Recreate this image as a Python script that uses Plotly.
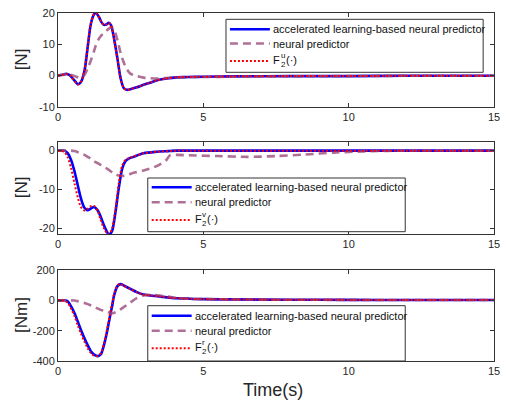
import plotly.graph_objects as go

# ---------------- data ----------------
t_top = [0, 0.15, 0.28, 0.4, 0.51, 0.6, 0.68, 0.79, 0.91, 1.02, 1.13, 1.24, 1.30, 1.41, 1.50,
         1.58, 1.66, 1.75, 1.83, 1.92, 2.04, 2.15, 2.26, 2.37, 2.49, 2.71, 2.94, 3.17, 3.39,
         3.73, 4.07, 4.5, 5, 6, 8, 10, 12, 15]
acc_top = [0, 0.2, 0.5, 0.1, -1.0, -2.0, -2.8, -2.1, 1.4, 9.0, 16.5, 19.6, 20.0, 18.7, 17.0,
           16.2, 16.3, 16.9, 16.0, 12.2, 5.7, -0.7, -4.0, -4.6, -4.4, -3.8, -3.0, -2.3, -1.6,
           -1.0, -0.6, -0.5, -0.4, -0.3, -0.2, -0.2, -0.1, -0.1]
neu_top = [0, 0.2, 0.4, 0.3, 0.0, -0.3, -0.6, -0.7, 0.2, 2.2, 4.8, 7.8, 9.6, 11.8, 12.9,
           13.6, 14.3, 15.0, 15.4, 14.8, 11.5, 7.3, 4.2, 2.0, 0.6, -0.2, -0.7, -0.9, -1.0,
           -0.8, -0.6, -0.5, -0.5, -0.4, -0.3, -0.2, -0.1, -0.1]
ref_top = [0, 0.2, 0.5, 0.1, -1.1, -2.1, -2.9, -2.0, 1.6, 9.3, 16.7, 19.7, 20.0, 18.6, 16.9,
           16.2, 16.3, 16.8, 15.9, 12.0, 5.5, -0.8, -4.0, -4.6, -4.4, -3.8, -3.0, -2.3, -1.6,
           -1.0, -0.6, -0.5, -0.4, -0.3, -0.2, -0.2, -0.1, -0.1]

t_mid = [0, 0.12, 0.23, 0.34, 0.45, 0.57, 0.68, 0.79, 0.91, 1.02, 1.13, 1.24, 1.36, 1.47, 1.58,
         1.70, 1.75, 1.81, 1.87, 1.98, 2.09, 2.21, 2.32, 2.45, 2.60, 2.94, 3.39, 3.73, 3.85,
         4.07, 4.5, 5.5, 6.5, 7.5, 8.5, 9.5, 10.5, 12, 15]
acc_mid = [0, 0, 0, -0.7, -2.4, -5.4, -8.9, -12.3, -14.7, -15.3, -14.9, -14.5, -15.3, -17.0, -19.2,
           -21.1, -21.6, -21.3, -20.5, -15.7, -9.7, -4.6, -2.7, -2.0, -1.6, -0.7, -0.3, -0.15, -0.1,
           0, 0, 0, 0, 0, 0, 0, 0, 0, 0]
neu_mid = [0, 0, 0, 0, 0, -0.1, -0.4, -0.7, -1.1, -1.6, -2.1, -2.7, -3.2, -3.7, -4.2,
           -4.7, -5.0, -5.3, -5.6, -6.1, -6.4, -6.5, -6.4, -6.1, -5.7, -5.1, -4.0, -2.4, -1.2,
           -1.1, -1.2, -1.4, -1.6, -1.4, -1.0, -0.5, -0.2, 0, 0]
ref_mid = [0, -0.1, -0.4, -1.8, -4.5, -8.5, -12.0, -14.5, -15.4, -15.0, -14.3, -14.2, -15.5, -17.8, -20.0,
           -21.4, -21.5, -21.0, -19.8, -15.0, -8.5, -3.8, -2.4, -1.9, -1.5, -0.7, -0.3, -0.15, -0.1,
           0, 0, 0, 0, 0, 0, 0, 0, 0, 0]

t_bot = [0, 0.12, 0.23, 0.34, 0.45, 0.57, 0.68, 0.79, 0.91, 1.02, 1.13, 1.24, 1.30, 1.36, 1.47,
         1.58, 1.70, 1.81, 1.87, 1.92, 2.04, 2.15, 2.26, 2.49, 2.71, 2.94, 3.17, 3.5, 3.84, 4.1,
         4.5, 5, 6, 8, 10, 12, 15]
acc_bot = [0, 0, 0, -8, -40, -85, -140, -195, -250, -295, -335, -357, -364, -368, -357,
           -295, -195, -85, -30, 25, 92, 107, 98, 76, 54, 38, 32, 25, 18, 14,
           11, 8, 6, 4, 3, 2, 2]
neu_bot = [0, 0, 0, 0, 0, -1, -6, -12, -18, -25, -34, -43, -48, -53, -63,
           -70, -78, -83, -85, -83, -74, -60, -45, -14, 14, 32, 36, 32, 23, 14,
           10, 8, 6, 4, 3, 2, 2]
ref_bot = [0, -1, -3, -18, -55, -105, -165, -220, -272, -315, -348, -365, -368, -366, -350,
           -285, -180, -70, -15, 35, 98, 107, 97, 75, 53, 38, 32, 25, 18, 14,
           11, 8, 6, 4, 3, 2, 2]

series_names = ["accelerated learning-based neural predictor", "neural predictor"]
ref_sup = ["u", "v", "r"]
ref_sub = "2"
y_titles = ["[N]", "[N]", "[Nm]"]
x_ticks = [0, 5, 10, 15]
y_ticks = [[-10, 0, 10, 20], [-20, -10, 0], [-400, -200, 0, 200]]
y_ticktext = [["-10", "0", "10", "20"], ["-20", "-10", "0"], ["-400", "-200", "0", "200"]]
y_ranges = [[-10, 20], [-21.45, 2.35], [-400, 200]]
x_title = "Time(s)"

# ---------------- figure ----------------
FONT = "Liberation Sans, Arial, Helvetica, sans-serif"
BLUE = "#0000ff"
MAUVE = "rgba(155,75,125,0.80)"
RED = "#ff0000"
AX = "#333333"

W, H = 506, 409
ML, MR, MT, MB = 58, 6, 13, 48
PW, PH = W - ML - MR, H - MT - MB


def px(x):
    return (x - ML) / PW


def py(y):
    return (H - MB - y) / PH


line_styles = [dict(color=BLUE, width=2.6),
               dict(color=MAUVE, width=2.6, dash="8px,5px"),
               dict(color=RED, width=2.0, dash="2px,2px")]

fig = go.Figure()
panels = [(t_top, acc_top, neu_top, ref_top), (t_mid, acc_mid, neu_mid, ref_mid),
          (t_bot, acc_bot, neu_bot, ref_bot)]
for i, (t, a, n, r) in enumerate(panels):
    xa = "x" if i == 0 else f"x{i+1}"
    ya = "y" if i == 0 else f"y{i+1}"
    names = series_names + [f"F{ref_sub}{ref_sup[i]}(·)"]
    for k, vals in enumerate([a, n, r]):
        fig.add_trace(go.Scatter(x=t, y=vals, mode="lines", name=names[k], xaxis=xa, yaxis=ya,
                                 showlegend=False,
                                 line=dict(line_styles[k], shape="spline", smoothing=0.8)))

domains = [[py(106.7), py(13)], [py(234), py(141.5)], [py(361), py(270)]]
axis_common = dict(showline=True, linecolor=AX, linewidth=1, mirror="ticks",
                   ticks="inside", ticklen=4, tickcolor=AX, showgrid=False, zeroline=False,
                   ticklabeloverflow="allow",
                   tickfont=dict(family=FONT, size=11, color="#262626"))
layout = dict(width=W, height=H, margin=dict(l=ML, r=MR, t=MT, b=MB),
              paper_bgcolor="white", plot_bgcolor="white", font=dict(family=FONT),
              showlegend=False)
for i in range(3):
    sx = "xaxis" if i == 0 else f"xaxis{i+1}"
    sy = "yaxis" if i == 0 else f"yaxis{i+1}"
    ax_anchor = "y" if i == 0 else f"y{i+1}"
    ay_anchor = "x" if i == 0 else f"x{i+1}"
    layout[sx] = dict(axis_common, range=[0, 15], tickvals=x_ticks, domain=[0, 1], anchor=ax_anchor)
    layout[sy] = dict(axis_common, range=y_ranges[i], tickvals=y_ticks[i], ticktext=y_ticktext[i],
                      domain=domains[i], anchor=ay_anchor)

# ---- hand-drawn legends (box, sample lines, texts) in pixel geometry ----
legend_boxes = [(228.3, 19.3, 489, 72.3, [29.3, 43.5, 61.0]),
                (149, 178, 410, 231.7, [187.3, 202.3, 220.0]),
                (149, 305.7, 410, 361, [315.7, 330.7, 348.3])]
shapes = []
annotations = []
LFONT = dict(family=FONT, size=11, color="#111111")
for i, (l, tp, rt, bt, rows) in enumerate(legend_boxes):
    shapes.append(dict(type="rect", xref="paper", yref="paper", x0=px(l), x1=px(rt),
                       y0=py(bt), y1=py(tp), line=dict(color=AX, width=1), fillcolor="white",
                       layer="above"))
    for k in range(3):
        shapes.append(dict(type="line", xref="paper", yref="paper", x0=px(l + 4), x1=px(l + 44.5),
                           y0=py(rows[k]), y1=py(rows[k]), line=line_styles[k], layer="above"))
    for k in range(2):
        annotations.append(dict(text=series_names[k], xref="paper", yref="paper", x=px(l + 47),
                                y=py(rows[k]), xanchor="left", yanchor="middle", showarrow=False,
                                font=LFONT, borderpad=0))
    annotations.append(dict(text="F", xref="paper", yref="paper", x=px(l + 47), y=py(rows[2] - 1),
                            xanchor="left", yanchor="middle", showarrow=False, font=LFONT, borderpad=0))
    annotations.append(dict(text=ref_sup[i], xref="paper", yref="paper", x=px(l + 54.3),
                            y=py(rows[2] - 5.5), xanchor="left", yanchor="middle", showarrow=False,
                            font=dict(LFONT, size=8), borderpad=0))
    annotations.append(dict(text=ref_sub, xref="paper", yref="paper", x=px(l + 54.3),
                            y=py(rows[2] + 3), xanchor="left", yanchor="middle", showarrow=False,
                            font=dict(LFONT, size=8), borderpad=0))
    annotations.append(dict(text="(·)", xref="paper", yref="paper", x=px(l + 59.5), y=py(rows[2] - 1),
                            xanchor="left", yanchor="middle", showarrow=False, font=LFONT, borderpad=0))

for i in range(3):
    yc = (domains[i][0] + domains[i][1]) / 2
    annotations.append(dict(text=y_titles[i], xref="paper", yref="paper", x=px(21), y=yc,
                            textangle=-90, showarrow=False, xanchor="center", yanchor="middle",
                            font=dict(family=FONT, size=17, color="#262626")))
annotations.append(dict(text=x_title, xref="paper", yref="paper", x=px(276), y=py(390),
                        showarrow=False, xanchor="center", yanchor="middle",
                        font=dict(family=FONT, size=18, color="#262626")))
layout["annotations"] = annotations
layout["shapes"] = shapes

fig.update_layout(**layout)
fig.write_html("out.html")
